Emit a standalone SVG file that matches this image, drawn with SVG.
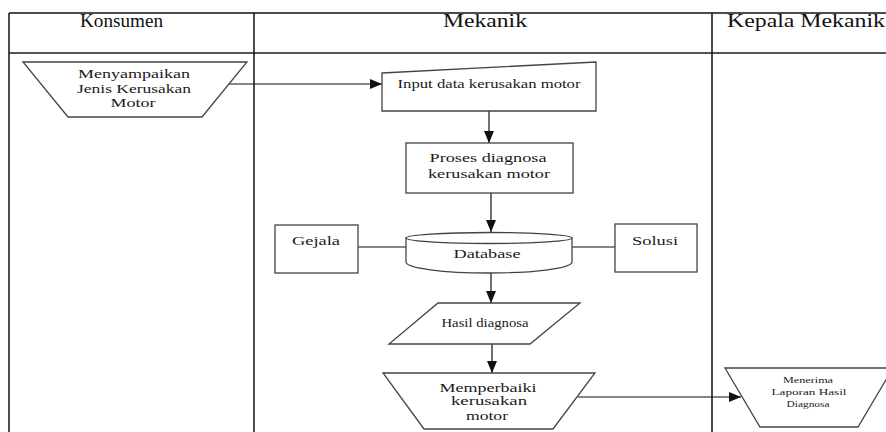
<svg xmlns="http://www.w3.org/2000/svg" width="886" height="432" viewBox="0 0 886 432">
<style>
  .lane { stroke: #111; stroke-width: 1.5; fill: none; }
  .hdrline { stroke: #555; stroke-width: 2.2; fill: none; }
  .shape { fill: #fff; stroke: #444; stroke-width: 1.3; }
  .conn { stroke: #111; stroke-width: 1.2; fill: none; }
  .hdr { font-family: "Liberation Serif", "DejaVu Serif", serif; font-size: 18px; fill: #111; }
  .t { font-family: "Liberation Serif", "DejaVu Serif", serif; font-size: 12.5px; fill: #1a1a22; text-anchor: middle; }
  .ts { font-family: "Liberation Serif", "DejaVu Serif", serif; font-size: 9px; fill: #1a1a22; text-anchor: middle; }
</style>
<defs>
  <marker id="arrow" markerUnits="userSpaceOnUse" markerWidth="12" markerHeight="10" refX="12" refY="5" orient="auto">
    <path d="M0,0 L12,5 L0,10 z" fill="#111"/>
  </marker>
</defs>
<rect x="0" y="0" width="886" height="432" fill="#fff"/>

<g id="swimlanes">
  <line class="lane" x1="9" y1="13" x2="886" y2="13"/>
  <line class="hdrline" x1="9" y1="53" x2="886" y2="53"/>
  <line class="lane" x1="9" y1="13" x2="9" y2="432"/>
  <line class="lane" x1="254" y1="13" x2="254" y2="432"/>
  <line class="lane" x1="712" y1="13" x2="712" y2="432"/>
  <text class="hdr" x="80" y="27" textLength="83" lengthAdjust="spacingAndGlyphs">Konsumen</text>
  <text class="hdr" x="443" y="27" textLength="84" lengthAdjust="spacingAndGlyphs">Mekanik</text>
  <text class="hdr" x="727" y="27" textLength="158" lengthAdjust="spacingAndGlyphs">Kepala Mekanik</text>
</g>

<g id="connectors">
  <line class="conn" x1="229" y1="84" x2="382" y2="84" marker-end="url(#arrow)"/>
  <line class="conn" x1="489" y1="111" x2="489" y2="143" marker-end="url(#arrow)"/>
  <line class="conn" x1="491" y1="193" x2="491" y2="232" marker-end="url(#arrow)"/>
  <line class="conn" x1="358" y1="247" x2="406" y2="247"/>
  <line class="conn" x1="572" y1="247" x2="615" y2="247"/>
  <line class="conn" x1="491" y1="273" x2="491" y2="303" marker-end="url(#arrow)"/>
  <line class="conn" x1="492" y1="344" x2="492" y2="373" marker-end="url(#arrow)"/>
  <line class="conn" x1="578" y1="397" x2="741" y2="397" marker-end="url(#arrow)"/>
</g>

<g id="menyampaikan">
  <polygon class="shape" points="23,62 247,62 202,117 68,117"/>
  <text class="t" x="134" y="78" textLength="112" lengthAdjust="spacingAndGlyphs">Menyampaikan</text>
  <text class="t" x="134" y="93" textLength="114" lengthAdjust="spacingAndGlyphs">Jenis Kerusakan</text>
  <text class="t" x="133" y="107" textLength="45" lengthAdjust="spacingAndGlyphs">Motor</text>
</g>

<g id="input-data">
  <polygon class="shape" points="382,73 596,62 596,111 382,111"/>
  <text class="t" x="489" y="88" textLength="183" lengthAdjust="spacingAndGlyphs">Input data kerusakan motor</text>
</g>

<g id="proses-diagnosa">
  <rect class="shape" x="406" y="143" width="167" height="50"/>
  <text class="t" x="488" y="162" textLength="117" lengthAdjust="spacingAndGlyphs">Proses diagnosa</text>
  <text class="t" x="489" y="178" textLength="122" lengthAdjust="spacingAndGlyphs">kerusakan motor</text>
</g>

<g id="database">
  <path class="shape" d="M406,238 L406,262 A83,11 0 0 0 572,262 L572,238 Z"/>
  <ellipse class="shape" cx="489" cy="238" rx="83" ry="5.5"/>
  <text class="t" x="487" y="258" textLength="67" lengthAdjust="spacingAndGlyphs">Database</text>
</g>

<g id="gejala">
  <rect class="shape" x="275" y="225" width="83" height="48"/>
  <text class="t" x="316" y="245" textLength="48" lengthAdjust="spacingAndGlyphs">Gejala</text>
</g>

<g id="solusi">
  <rect class="shape" x="615" y="224" width="82" height="48"/>
  <text class="t" x="655" y="245" textLength="46" lengthAdjust="spacingAndGlyphs">Solusi</text>
</g>

<g id="hasil-diagnosa">
  <polygon class="shape" points="438,303 580,303 530,344 389,344"/>
  <text class="t" x="485" y="327" font-size="11" textLength="87" lengthAdjust="spacingAndGlyphs">Hasil diagnosa</text>
</g>

<g id="memperbaiki">
  <polygon class="shape" points="383,373 595,373 553,429 424,429"/>
  <text class="t" x="488" y="392" textLength="97" lengthAdjust="spacingAndGlyphs">Memperbaiki</text>
  <text class="t" x="489" y="405" textLength="76" lengthAdjust="spacingAndGlyphs">kerusakan</text>
  <text class="t" x="487" y="420" textLength="42" lengthAdjust="spacingAndGlyphs">motor</text>
</g>

<g id="menerima-laporan">
  <polygon class="shape" points="725,368 893,368 858,427 760,427"/>
  <text class="ts" x="808" y="383" textLength="50" lengthAdjust="spacingAndGlyphs">Menerima</text>
  <text class="ts" x="809" y="395" textLength="75" lengthAdjust="spacingAndGlyphs">Laporan Hasil</text>
  <text class="ts" x="808" y="407" textLength="43" lengthAdjust="spacingAndGlyphs">Diagnosa</text>
</g>
</svg>
